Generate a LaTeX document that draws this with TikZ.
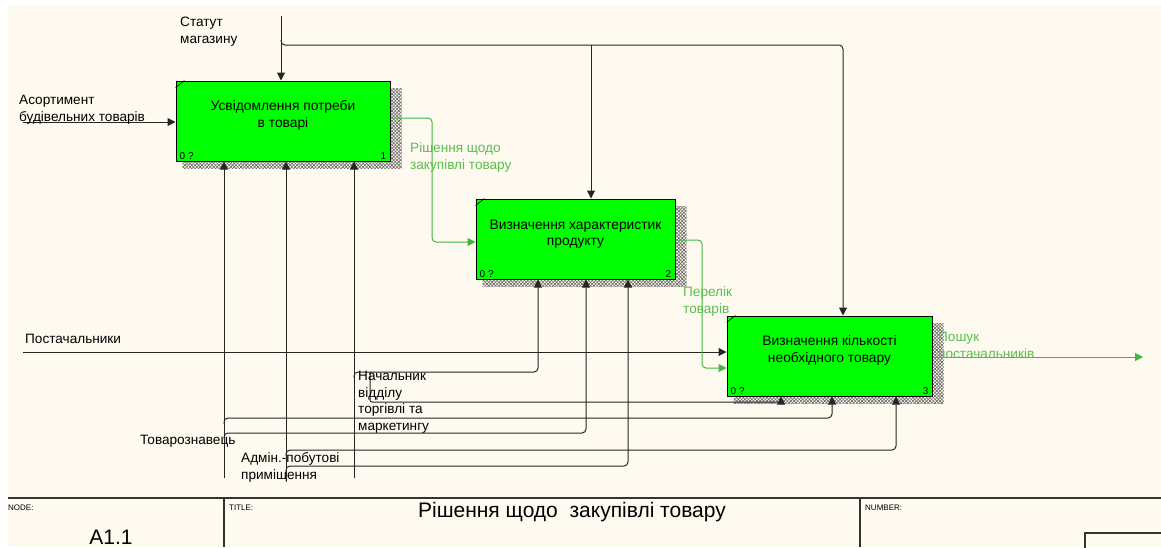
\documentclass[tikz,border=0pt]{standalone}
\usepackage{fontspec}
\setmainfont{Liberation Sans}
\usetikzlibrary{arrows.meta,patterns.meta,backgrounds}
\definecolor{paper}{RGB}{255,250,240}
\definecolor{actfill}{RGB}{0,255,0}
\definecolor{flow}{RGB}{64,184,64}
\definecolor{flowtxt}{RGB}{90,190,80}
\begin{document}
\begin{tikzpicture}[x=1pt,y=-1pt,
  txt/.style={font=\fontsize{13.6}{16.5}\selectfont, inner sep=0pt, align=left, anchor=base west},
  gtxt/.style={txt, text=flowtxt},
  actbox/.style={draw=black, line width=1pt, fill=actfill, inner sep=0pt},
  boxtxt/.style={font=\fontsize{13.8}{16.5}\selectfont, align=center, inner sep=0pt},
  corner/.style={font=\fontsize{10}{10}\selectfont, inner sep=0pt},
  shade/.style={pattern={Lines[angle=45,distance=2.4pt,line width=0.6pt]}, pattern color=black!60,
    postaction={pattern={Lines[angle=-45,distance=2.4pt,line width=0.6pt]}, pattern color=black!60}},
  arr/.style={draw=black!85, line width=1pt, rounded corners=4pt, -{Triangle[length=8pt,width=8pt]}},
  garr/.style={arr, draw=flow},
  frame/.style={draw=black!80, line width=1.2pt},
  tiny/.style={font=\fontsize{8}{8}\selectfont, inner sep=0pt, anchor=base west}
]
\useasboundingbox (0,0) rectangle (1161,547);

% activity boxes
\node[actbox, minimum width=214pt, minimum height=80pt] (b1) at (283,121) {};
\node[actbox, minimum width=199pt, minimum height=80pt] (b2) at (575.5,239) {};
\node[actbox, minimum width=205pt, minimum height=80pt] (b3) at (829.5,356) {};

% sheet and hatched shadows
\begin{scope}[on background layer]
  \fill[white] (0,0) rectangle (1161,547);
  \fill[paper] (8,5) rectangle (1161,547);
  \foreach \b in {b1,b2,b3}
    \path[shade] ([xshift=7pt,yshift=-8pt]\b.north west) rectangle ([xshift=11pt,yshift=-7pt]\b.south east);
\end{scope}

% box captions, numbers and corner ticks
\node[boxtxt] (t1) at ([yshift=5.5pt]b1.center) {Усвідомлення потреби\\в товарі};
\node[boxtxt] (t2) at ([yshift=5pt]b2.center) {Визначення характеристик\\продукту};
\node[boxtxt] (t3) at ([yshift=5.5pt]b3.center) {Визначення кількості\\необхідного товару};
\foreach \b/\n in {b1/1,b2/2,b3/3}{
  \node[corner, anchor=south west] at ([xshift=4pt,yshift=2pt]\b.south west) {0 ?};
  \node[corner, anchor=south east] at ([xshift=-4pt,yshift=2pt]\b.south east) {\n};
  \draw[line width=0.6pt] ([yshift=-7pt]\b.north west) -- ([xshift=9pt]\b.north west);
}

% control: Статут магазину
\coordinate (st0) at (281,16);
\coordinate (stB) at (281,40);
\coordinate (stM) at (591,45);
\coordinate (stR) at (843,45);
\draw[arr] (st0) -- (st0 |- b1.north);
\draw[arr] (stB) |- (stR) -- (stR |- b3.north);
\draw[arr] (stM) -- (stM |- b2.north);
\node[txt] (lst) at (180,43) {Статут\\магазину};

% inputs
\coordinate (as0) at (23,122);
\draw[arr] (as0) -- (as0 -| b1.west);
\node[txt] (las) at (19,121) {Асортимент\\будівельних товарів};
\coordinate (po0) at (23,352);
\draw[arr] (po0) -- (po0 -| b3.west);
\node[txt] (lpo) at (25,343) {Постачальники};

% outputs
\coordinate (g1) at (432,118);
\coordinate (g1b) at (432,242);
\draw[garr] (g1 -| b1.east) -- (g1) -- (g1b) -- (g1b -| b2.west);
\node[gtxt] (lg1) at (410,169) {Рішення щодо\\закупівлі товару};
\coordinate (g2) at (702,240);
\coordinate (g2b) at (702,368);
\draw[garr] (g2 -| b2.east) -- (g2) -- (g2b) -- (g2b -| b3.west);
\node[gtxt] (lg2) at (683,313) {Перелік\\товарів};
\coordinate (g3) at (1143,357);
\draw[garr] (g3 -| b3.east) -- (g3);
\node[gtxt] (lg3) at (938,358) {Пошук\\постачальників};

% mechanisms
\coordinate (mT) at (224,478);
\coordinate (mA) at (286,478);
\coordinate (mN) at (354,478);
\draw[arr] (mT) -- (mT |- b1.south);
\draw[arr] (mA) -- (mA |- b1.south);
\draw[arr] (mN) -- (mN |- b1.south);

\coordinate (n2s) at (354,378);
\coordinate (n2) at (538,372);
\draw[arr] (n2s) |- (n2) -- (n2 |- b2.south);
\coordinate (n3s) at (370,372);
\coordinate (n3) at (781,402);
\draw[arr, rounded corners=2pt] (n3s) |- (n3) -- (n3 |- b3.south);

\coordinate (t3s) at (224,424);
\coordinate (t3b) at (832,418);
\draw[arr] (t3s) |- (t3b) -- (t3b |- b3.south);
\coordinate (t2s) at (224,439);
\coordinate (t2b) at (586,433);
\draw[arr] (t2s) |- (t2b) -- (t2b |- b2.south);

\coordinate (a3s) at (286,456);
\coordinate (a3b) at (896,450);
\draw[arr] (a3s) |- (a3b) -- (a3b |- b3.south);
\coordinate (a2s) at (286,472);
\coordinate (a2b) at (628,466);
\draw[arr] (a2s) |- (a2b) -- (a2b |- b2.south);

\node[txt] (lnach) at (358,430) {Начальник\\відділу\\торгівлі та\\маркетингу};
\node[txt] (ltov) at (140,444) {Товарознавець};
\node[txt] (ladm) at (241,479) {Адмін.-побутові\\приміщення};

% title block
\draw[frame] (8,498) -- (1161,498);
\draw[frame] (224,498) -- (224,547);
\draw[frame] (860,498) -- (860,547);
\draw[frame] (1085,550) |- (1165,533);
\node[tiny] (fnode) at (8,510) {NODE:};
\node[tiny] (ftitle) at (229,510) {TITLE:};
\node[tiny] (fnum) at (865,510) {NUMBER:};
\node[font=\fontsize{21}{21}\selectfont, inner sep=0pt] (fa) at (111,537) {A1.1};
\node[font=\fontsize{21}{21}\selectfont, inner sep=0pt] (ft) at (572,512) {Рішення щодо\ \ закупівлі товару};
\end{tikzpicture}
\end{document}
